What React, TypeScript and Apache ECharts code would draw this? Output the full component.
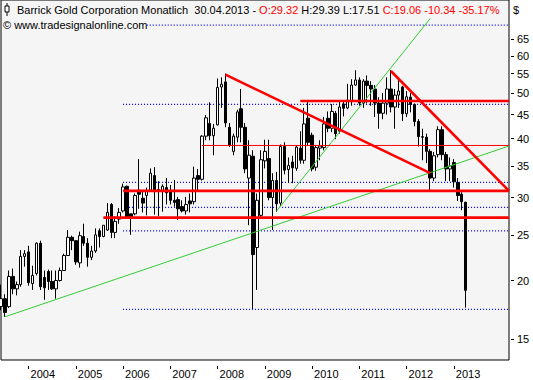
import React, { useEffect, useRef } from "react";
import * as echarts from "echarts";

// Monthly candles, June 2003 .. April 2013 (Barrick Gold, USD)
const opens = [
  17.6, 18.3, 17.6, 20.4, 19.2, 19.6, 22.5, 23.0, 19.7, 20.7, 24.0, 20.3,
  20.9, 19.9, 19.2, 20.0, 21.0, 22.6, 24.7, 24.3, 21.8, 24.8, 24.0, 22.4,
  23.1, 25.5, 24.8, 25.6, 29.0, 25.3, 27.0, 28.1, 31.7, 27.7, 27.7, 31.1,
  29.9, 30.3, 31.1, 33.4, 31.0, 31.0, 31.5, 31.0, 29.6, 29.7, 28.7, 28.1,
  29.5, 29.4, 33.4, 32.8, 40.5, 43.1, 40.6, 42.8, 51.5, 52.8, 42.3, 37.6,
  40.3, 46.3, 42.3, 33.0, 36.7, 23.5, 27.5, 35.9, 36.3, 30.0, 32.6, 29.2,
  38.5, 34.4, 35.7, 34.6, 38.2, 36.0, 44.2, 40.7, 34.8, 38.2, 38.3, 44.2,
  42.1, 45.3, 41.5, 47.4, 46.5, 48.1, 52.0, 53.3, 47.6, 53.0, 51.9, 51.0,
  47.6, 45.3, 47.6, 51.0, 46.7, 49.5, 51.5, 45.2, 49.0, 47.3, 43.5, 40.4,
  40.3, 37.6, 33.0, 37.0, 41.8, 37.0, 34.5, 35.6, 32.3, 30.5, 29.32,
];
const highs = [
  19.6, 18.7, 21.0, 21.2, 19.9, 23.2, 23.2, 23.7, 21.5, 24.1, 24.3, 21.0,
  21.1, 21.0, 21.0, 21.3, 22.8, 25.6, 24.9, 24.3, 25.4, 26.4, 24.6, 23.7,
  25.8, 25.8, 26.2, 29.2, 29.2, 27.4, 28.5, 32.1, 31.8, 27.7, 30.6, 36.2,
  31.1, 31.5, 34.6, 34.8, 32.5, 32.0, 33.0, 31.9, 32.7, 30.1, 29.6, 30.1,
  30.6, 34.9, 34.5, 40.7, 44.9, 47.8, 43.0, 53.7, 54.0, 55.0, 43.2, 41.0,
  46.1, 51.0, 43.2, 39.7, 37.8, 30.6, 37.8, 39.8, 39.8, 33.8, 34.0, 38.9,
  39.3, 36.5, 36.8, 38.7, 41.5, 46.5, 48.0, 41.2, 38.8, 39.7, 44.5, 45.7,
  47.4, 45.8, 48.0, 48.3, 52.3, 53.5, 55.9, 54.0, 53.5, 54.5, 53.0, 52.0,
  49.0, 50.0, 54.0, 55.9, 51.0, 53.5, 51.8, 50.5, 50.0, 47.5, 44.0, 42.0,
  41.0, 38.0, 37.5, 42.5, 42.5, 37.5, 36.5, 36.2, 33.0, 30.8, 29.39,
];
const lows = [
  17.3, 16.75, 17.5, 18.7, 18.6, 19.4, 21.4, 19.5, 19.1, 20.5, 19.1, 18.2,
  19.1, 19.1, 18.3, 19.9, 21.0, 22.6, 23.2, 21.6, 21.3, 23.7, 21.4, 22.1,
  22.9, 23.5, 24.7, 25.5, 24.6, 24.6, 26.4, 27.9, 27.2, 25.0, 27.5, 28.4,
  27.9, 27.5, 30.9, 27.6, 27.4, 28.0, 29.0, 29.0, 28.7, 26.9, 27.9, 27.6,
  27.9, 29.0, 30.9, 32.6, 39.7, 39.7, 36.9, 42.7, 46.5, 42.3, 38.4, 36.9,
  39.3, 39.3, 33.8, 26.2, 17.4, 19.1, 27.2, 34.6, 29.6, 25.6, 28.0, 28.8,
  33.6, 32.2, 32.2, 34.2, 35.4, 35.4, 38.6, 34.1, 34.2, 36.0, 37.8, 41.3,
  41.3, 39.9, 41.0, 44.6, 46.2, 47.0, 51.8, 47.0, 46.5, 47.5, 47.0, 44.5,
  42.0, 44.0, 45.0, 45.5, 42.0, 46.5, 43.6, 44.5, 45.5, 42.5, 38.5, 36.0,
  35.5, 31.0, 32.5, 36.5, 36.0, 32.5, 32.5, 31.5, 29.5, 28.2, 17.51,
];
const closes = [
  18.3, 17.1, 20.4, 19.2, 19.6, 22.5, 22.8, 19.8, 20.5, 24.0, 19.4, 19.3,
  19.9, 19.2, 20.0, 21.0, 22.6, 24.7, 24.3, 21.9, 24.9, 24.0, 22.4, 23.1,
  25.0, 24.8, 26.2, 27.9, 25.3, 26.7, 27.9, 31.6, 27.3, 27.3, 30.3, 30.5,
  29.2, 31.0, 33.8, 31.1, 31.2, 31.7, 30.7, 29.6, 29.3, 28.4, 28.1, 29.0,
  29.1, 33.0, 32.8, 40.5, 44.3, 40.6, 42.1, 51.4, 52.2, 43.2, 38.8, 40.5,
  45.6, 42.3, 34.5, 36.9, 22.7, 29.6, 36.1, 37.6, 30.0, 32.6, 29.1, 38.5,
  34.3, 35.1, 34.7, 38.4, 36.0, 43.0, 39.3, 34.5, 38.3, 38.6, 43.0, 42.1,
  45.7, 41.0, 46.7, 46.4, 48.3, 52.0, 53.3, 47.6, 53.0, 51.9, 51.0, 47.6,
  45.3, 47.6, 51.0, 46.7, 49.5, 50.5, 45.2, 49.1, 47.3, 43.5, 40.4, 40.3,
  37.6, 33.0, 36.8, 41.8, 37.0, 34.5, 35.0, 32.4, 30.3, 29.4, 19.06,
];

// y-axis tick labels (log scale)
const yTicks = [15, 20, 25, 30, 35, 40, 45, 50, 55, 60, 65];
// x-axis year labels
const yearLabels = ["2004", "2005", "2006", "2007", "2008", "2009", "2010", "2011", "2012", "2013"];

// drawn lines: [startIndex, startPrice, endIndex, endPrice]
const redThickLines = [
  [26, 27.2, 129, 27.2],
  [31, 31.0, 129, 31.0],
  [76, 48.1, 129, 48.1],
  [57, 54.7, 109, 33.8],
  [99, 55.7, 129, 31.0],
];
const redThinLines = [[51, 38.7, 129, 38.7]];
const greenLines = [
  [1, 16.75, 129, 38.6],
  [70, 28.1, 109, 72.0],
];
const dottedLines = [
  [37, 69.7, 129, 69.7],
  [31, 47.3, 129, 47.3],
  [31, 32.3, 129, 32.3],
  [31, 28.6, 129, 28.6],
  [31, 25.5, 129, 25.5],
  [31, 17.37, 129, 17.37],
];

// month categories June 2003 .. March 2014
const categories: string[] = [];
for (let k = 0; k < 130; k++) {
  const m = 5 + k;
  const y = 2003 + Math.floor(m / 12);
  const mm = (m % 12) + 1;
  categories.push(`${y}-${mm < 10 ? "0" + mm : mm}`);
}

const FONT = "Liberation Sans";

export default function App() {
  const ref = useRef<HTMLDivElement>(null);
  useEffect(() => {
    document.body.style.margin = "0";
    const chart = echarts.init(ref.current!, undefined, { renderer: "svg" });
    const candleData = opens.map((o, i) => [o, closes[i], lows[i], highs[i]]);
    const isYearStart = (idx: number, v: string) =>
      v.slice(5) === "01" && yearLabels.indexOf(v.slice(0, 4)) >= 0;
    const mkLine = (seg: number[][], color: string, width: number, type: any, z: number) =>
      seg.map((s) => ({
        type: "line",
        data: [
          [s[0], s[1]],
          [s[2], s[3]],
        ],
        symbol: "none",
        silent: true,
        z,
        lineStyle: { color, width, type },
        clip: true,
      }));
    const option: any = {
      animation: false,
      backgroundColor: "#ffffff",
      grid: {
        left: 1,
        top: 0,
        right: 24,
        bottom: 20,
        show: true,
        backgroundColor: "#f5f5f5",
        borderColor: "#000000",
        borderWidth: 1,
      },
      xAxis: {
        type: "category",
        data: categories,
        boundaryGap: false,
        offset: 6,
        axisLine: { show: false },
        axisTick: { show: true, length: 3, interval: isYearStart, lineStyle: { color: "#000" } },
        axisLabel: {
          interval: isYearStart,
          formatter: (v: string) => v.slice(0, 4),
          align: "left",
          margin: 2,
          padding: [0, 0, 0, 2],
          fontSize: 11,
          fontFamily: FONT,
          color: "#000",
        },
        splitLine: { show: false },
      },
      yAxis: {
        type: "log",
        logBase: 10,
        position: "right",
        offset: 2,
        min: 13.56,
        max: 78.8,
        axisLine: { show: false },
        axisTick: { show: true, length: 3, customValues: yTicks, lineStyle: { color: "#000" } },
        axisLabel: {
          customValues: yTicks,
          margin: 6,
          fontSize: 11,
          fontFamily: FONT,
          color: "#000",
        },
        splitLine: { show: false },
      },
      series: [
        ...mkLine(dottedLines, "#0000ff", 1.2, [1, 2], 1),
        {
          type: "candlestick",
          data: candleData,
          barWidth: 3,
          z: 2,
          silent: true,
          itemStyle: {
            color: "#ffffff",
            color0: "#000000",
            borderColor: "#000000",
            borderColor0: "#000000",
            borderWidth: 1,
          },
        },
        ...mkLine(greenLines, "#33cc33", 1, "solid", 3),
        ...mkLine(redThinLines, "#ff0000", 1, "solid", 3),
        ...mkLine(redThickLines, "#ff0000", 2.6, "solid", 4),
      ],
      graphic: [
        { type: "line", shape: { x1: 7, y1: 3, x2: 7, y2: 16 }, style: { stroke: "#000", lineWidth: 1 } },
        { type: "rect", shape: { x: 5, y: 6, width: 4, height: 6 }, style: { fill: "#fff", stroke: "#000", lineWidth: 1 } },
        {
          type: "text",
          x: 17,
          y: 10,
          style: {
            text: "{k|Barrick Gold Corporation Monatlich  30.04.2013 - }{r|O:29.32 }{k|H:29.39 L:17.51 }{r|C:19.06 -10.34 -35.17%}",
            verticalAlign: "middle",
            font: `11px ${FONT}`,
            rich: {
              k: { fill: "#000", fontSize: 11, fontFamily: FONT },
              r: { fill: "#ff0000", fontSize: 11, fontFamily: FONT },
            },
          },
        },
        {
          type: "text",
          x: 3,
          y: 25,
          style: { text: "© www.tradesignalonline.com", verticalAlign: "middle", font: `11px ${FONT}`, fill: "#000" },
        },
        {
          type: "text",
          x: 513,
          y: 10,
          style: { text: "$", verticalAlign: "middle", font: `11px ${FONT}`, fill: "#000" },
        },
      ],
    };
    chart.setOption(option);
    return () => chart.dispose();
  }, []);
  return <div ref={ref} style={{ position: "fixed", left: 0, top: 0, width: 533, height: 380 }} />;
}
